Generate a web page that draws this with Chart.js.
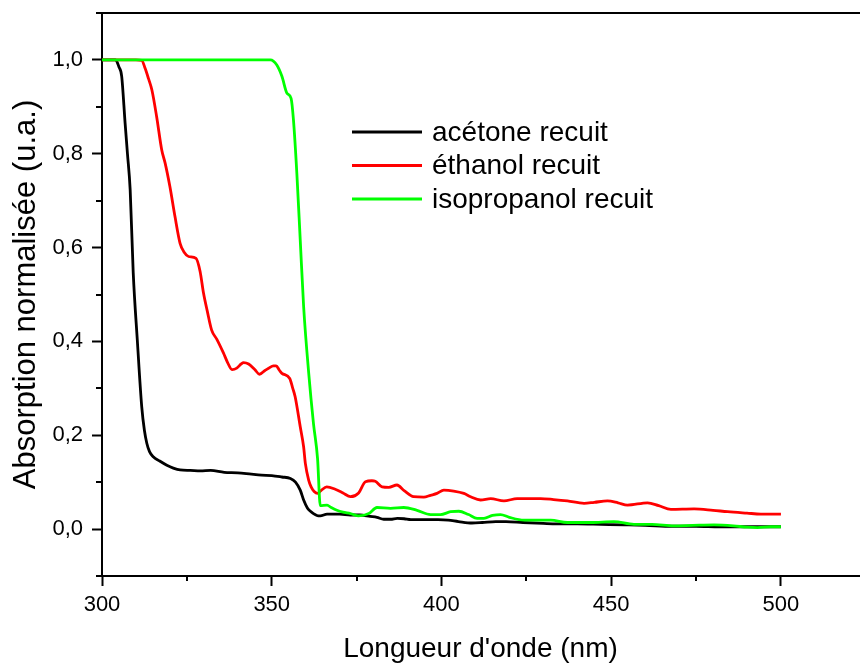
<!DOCTYPE html>
<html>
<head>
<meta charset="utf-8">
<script src="https://cdn.jsdelivr.net/npm/chart.js@4"></script>
<style>
  html, body { margin: 0; padding: 0; background: #fff; }
  #wrap { width: 860px; height: 666px; }
</style>
</head>
<body>
<div id="wrap"><canvas id="c" width="860" height="666"></canvas></div>
<script>
// Normalised absorption spectra (wavelength in nm, absorbance in a.u.)
const acetoneNm  = [300,302,304,305,305.8,306.8,307.5,308.3,309.2,310.4,311.7,312.5,313.2,314,315.1,317,319.1,321,323,326,329,332,336,340,344,347,350,353,355.5,357,358.4,359.4,360.5,361.4,362.3,363.3,364.3,366.3,370,373.2,376,379,381,383,385,387,389,391,395,399,402,405,409,412,416,419,424,430,434,440,447,454,460,468,475,482,488,495,500];
const acetoneAbs = [1.0,1.0,1.0,0.985,0.965,0.866,0.80,0.723,0.546,0.403,0.261,0.21,0.183,0.165,0.154,0.145,0.136,0.130,0.126,0.125,0.124,0.125,0.121,0.120,0.117,0.115,0.114,0.111,0.108,0.100,0.083,0.062,0.045,0.038,0.033,0.029,0.028,0.032,0.032,0.030,0.030,0.027,0.025,0.021,0.021,0.023,0.022,0.020,0.020,0.020,0.019,0.016,0.013,0.014,0.016,0.016,0.014,0.012,0.011,0.011,0.010,0.009,0.008,0.006,0.006,0.005,0.005,0.005,0.005];

const ethanolNm  = [300,305,310,311.7,312.7,313.7,314.7,316.1,317.6,318.6,320,321.5,323,324.2,325.5,327.7,328.9,329.9,331,332.3,333.8,335.8,337,338.3,339.7,341,341.7,343.2,345,346.4,348,349.1,350.5,351.3,352.3,353,355.3,356.2,356.9,358.4,359.4,359.9,360.9,361.6,362.5,363.5,364.5,366.2,368.7,371,373.2,375.6,377.6,379.5,380.5,382.5,384.5,386.9,389,391.8,394.8,396.8,398.7,400.7,403.6,406.6,408.6,411.5,414.5,418.4,422.3,429.2,433,437.1,442,445,448.9,452,454.8,460.7,464,467.6,474.4,480,484.3,490,494.1,500];
const ethanolAbs = [1.0,1.0,1.0,0.999,0.982,0.96,0.936,0.879,0.808,0.780,0.730,0.666,0.609,0.590,0.581,0.577,0.549,0.503,0.465,0.424,0.405,0.375,0.355,0.340,0.343,0.352,0.355,0.352,0.340,0.330,0.338,0.343,0.348,0.348,0.338,0.332,0.321,0.300,0.282,0.218,0.175,0.14,0.104,0.09,0.08,0.076,0.082,0.090,0.085,0.077,0.069,0.077,0.101,0.103,0.102,0.090,0.089,0.094,0.082,0.069,0.068,0.072,0.076,0.083,0.081,0.076,0.069,0.062,0.065,0.060,0.065,0.065,0.063,0.060,0.055,0.057,0.060,0.056,0.051,0.056,0.050,0.042,0.043,0.040,0.037,0.034,0.032,0.032];

const isopropanolNm  = [300,310,320,330,340,349.6,351.5,353,354.5,355.7,356.4,357.4,358.4,359.4,360.9,362.3,363.5,364.3,366.3,367.5,369.2,371,373.2,375.6,378.6,381,385,388.9,392.8,396.8,399.7,402.7,405.1,408,410.5,412.5,415,417.4,420,424.3,432.2,437.1,444,450.8,456.7,462,468.5,474,480.3,486,490,493.1,497,500];
const isopropanolAbs = [1.0,1.0,1.0,1.0,1.0,1.0,0.989,0.965,0.929,0.918,0.872,0.758,0.616,0.474,0.332,0.225,0.15,0.05,0.051,0.046,0.040,0.036,0.033,0.028,0.033,0.046,0.044,0.046,0.040,0.031,0.031,0.037,0.038,0.031,0.023,0.023,0.029,0.031,0.025,0.019,0.019,0.014,0.014,0.016,0.010,0.010,0.007,0.008,0.009,0.007,0.004,0.003,0.005,0.005];

const seriesLabels = ['acétone recuit', 'éthanol recuit', 'isopropanol recuit'];
const seriesColors = ['#000000', '#ff0000', '#00ff00'];

const xTitle = "Longueur d'onde (nm)";
const yTitle = 'Absorption normalisée (u.a.)';

const FONT = "'Liberation Sans', Arial, Helvetica, sans-serif";

function toPoints(xs, ys) { return xs.map((x, i) => ({ x: x, y: ys[i] })); }

const isMajorX = v => Math.round(v) % 50 === 0;
const isMajorY = v => Math.round(v * 10) % 2 === 0;

// Axis frame extras: top border line, short minor ticks, inline legend
const framePlugin = {
  id: 'frame',
  afterDraw(chart) {
    const ctx = chart.ctx;
    const area = chart.chartArea;
    const xs = chart.scales.x, ys = chart.scales.y;
    ctx.save();
    ctx.strokeStyle = '#000';
    ctx.lineWidth = 2;
    // top border
    ctx.beginPath();
    ctx.moveTo(area.left - 1, area.top);
    ctx.lineTo(chart.width, area.top);
    ctx.stroke();
    // minor ticks
    ctx.beginPath();
    xs.ticks.forEach(t => {
      if (!isMajorX(t.value)) {
        const px = Math.round(xs.getPixelForValue(t.value));
        ctx.moveTo(px, area.bottom);
        ctx.lineTo(px, area.bottom + 5);
      }
    });
    ys.ticks.forEach(t => {
      if (!isMajorY(t.value)) {
        const py = Math.round(ys.getPixelForValue(t.value));
        ctx.moveTo(area.left, py);
        ctx.lineTo(area.left - 6, py);
      }
    });
    ctx.stroke();

    // legend
    const lx0 = 352, lx1 = 422, tx = 432, ly0 = 132, dy = 33.5;
    ctx.font = '28px ' + FONT;
    ctx.textBaseline = 'middle';
    ctx.textAlign = 'left';
    chart.data.datasets.forEach((ds, i) => {
      const y = ly0 + i * dy;
      ctx.strokeStyle = ds.borderColor;
      ctx.lineWidth = 3;
      ctx.beginPath();
      ctx.moveTo(lx0, y);
      ctx.lineTo(lx1, y);
      ctx.stroke();
      ctx.fillStyle = '#000';
      ctx.fillText(ds.label, tx, y + 1);
    });
    ctx.restore();
  }
};

const datasets = [
  toPoints(acetoneNm, acetoneAbs),
  toPoints(ethanolNm, ethanolAbs),
  toPoints(isopropanolNm, isopropanolAbs)
].map((pts, i) => ({
  label: seriesLabels[i],
  data: pts,
  borderColor: seriesColors[i],
  backgroundColor: seriesColors[i],
  borderWidth: 2.8,
  pointRadius: 0,
  fill: false,
  order: 3 - i,
  cubicInterpolationMode: 'monotone'
}));

new Chart(document.getElementById('c'), {
  type: 'line',
  data: { datasets: datasets },
  options: {
    responsive: false,
    animation: false,
    devicePixelRatio: 1,
    layout: { padding: { top: 13, right: 1, left: 0, bottom: 0 } },
    plugins: { legend: { display: false }, tooltip: { enabled: false } },
    scales: {
      x: {
        type: 'linear',
        min: 300,
        max: 523,
        afterFit: s => { s.height = 90; s.paddingLeft = 0; s.paddingRight = 0; },
        afterBuildTicks: s => { s.ticks = s.ticks.filter(t => Math.abs(t.value / 25 - Math.round(t.value / 25)) < 1e-6); },
        ticks: {
          stepSize: 25,
          autoSkip: false,
          maxRotation: 0,
          padding: 6,
          color: '#000',
          font: { family: FONT, size: 22 },
          callback: v => isMajorX(v) ? String(Math.round(v)) : ''
        },
        grid: {
          drawOnChartArea: false,
          drawTicks: true,
          tickLength: 10,
          tickWidth: 2,
          tickColor: c => (c.tick && isMajorX(c.tick.value)) ? '#000' : 'rgba(0,0,0,0)'
        },
        border: { display: true, color: '#000', width: 2 },
        title: {
          display: true,
          text: xTitle,
          color: '#000',
          font: { family: FONT, size: 28 },
          padding: { top: 0, bottom: 0 }
        }
      },
      y: {
        type: 'linear',
        min: -0.1,
        max: 1.1,
        afterFit: s => { s.width = 102; s.paddingTop = 0; s.paddingBottom = 0; },
        ticks: {
          stepSize: 0.1,
          autoSkip: false,
          padding: 9,
          color: '#000',
          font: { family: FONT, size: 22 },
          callback: v => {
            const k = Math.round(v * 10);
            return (k % 2 === 0 && k >= 0 && k <= 10) ? (k / 10).toFixed(1).replace('.', ',') : '';
          }
        },
        grid: {
          drawOnChartArea: false,
          drawTicks: true,
          tickLength: 10,
          tickWidth: 2,
          tickColor: c => (c.tick && isMajorY(c.tick.value)) ? '#000' : 'rgba(0,0,0,0)'
        },
        border: { display: true, color: '#000', width: 2 },
        title: {
          display: true,
          text: yTitle,
          color: '#000',
          font: { family: FONT, size: 31 },
          padding: { top: 8, bottom: 0 }
        }
      }
    }
  },
  plugins: [framePlugin]
});
</script>
</body>
</html>
